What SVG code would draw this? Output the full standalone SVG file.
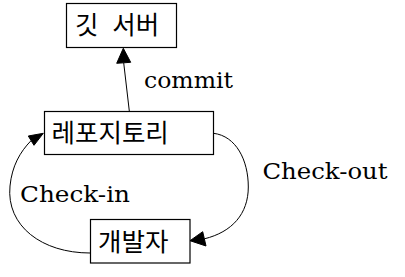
<svg xmlns="http://www.w3.org/2000/svg" width="405" height="277" viewBox="0 0 405 277">
<style>
.box{fill:#fff;stroke:#000;stroke-width:1.2}
.ko{font-family:"Noto Sans CJK KR","Noto Sans",sans-serif;font-size:25.5px;fill:#000}
.lb{font-family:"DejaVu Serif","Liberation Serif",serif;font-size:22px;fill:#000}
.edge{fill:none;stroke:#000;stroke-width:1}
.head{fill:#000;stroke:#000;stroke-width:1}
</style>
<rect width="405" height="277" fill="#fff"/>
<g id="connectors">
<g id="commit-edge">
<path class="edge" d="M129.3,111 L123.7,62.8"/>
<polygon class="head" points="123.3,48.3 116.7,63.3 130.7,62.3"/>
<text class="lb" x="144" y="88" textLength="89" lengthAdjust="spacingAndGlyphs">commit</text>
</g>
<g id="checkout-edge">
<path class="edge" d="M213.5,133.3 C236,136 248.3,160 248.3,187 C248.3,214 232,232 204.5,238.8"/>
<polygon class="head" points="190,240.7 202.7,231.7 206,246"/>
<text class="lb" x="262.5" y="179.3" textLength="125" lengthAdjust="spacingAndGlyphs">Check-out</text>
</g>
<g id="checkin-edge">
<path class="edge" d="M90,253 C42,253 6,226 10,186 C12,166 20,152 31,140.7"/>
<polygon class="head" points="43.3,133.3 28.3,136 34,145.3"/>
<text class="lb" x="20" y="201.7" textLength="110" lengthAdjust="spacingAndGlyphs">Check-in</text>
</g>
</g>
<g id="node-server">
<rect class="box" x="66.5" y="3.5" width="110" height="44"/>
<text class="ko" x="75" y="34" word-spacing="8">깃 서버</text>
</g>
<g id="node-repo">
<rect class="box" x="44.5" y="111.5" width="169" height="43"/>
<text class="ko" x="51.5" y="142">레포지토리</text>
</g>
<g id="node-dev">
<rect class="box" x="90.5" y="219.5" width="99.5" height="43.5"/>
<text class="ko" x="98" y="251">개발자</text>
</g>
</svg>
